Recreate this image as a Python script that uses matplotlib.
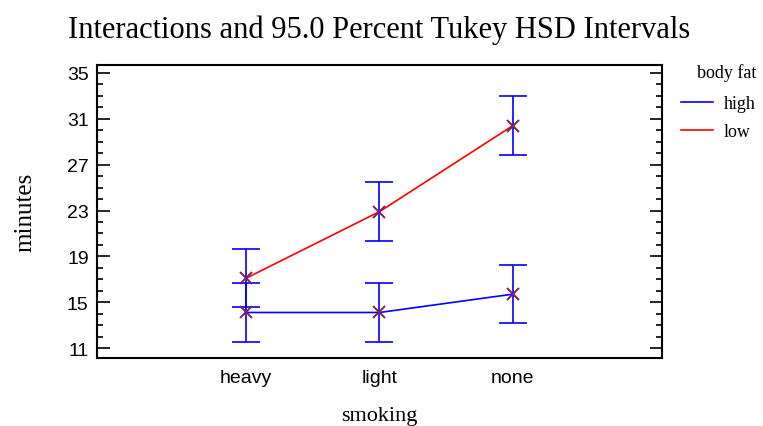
import numpy as np
import matplotlib.pyplot as plt
from matplotlib.ticker import MultipleLocator
from matplotlib.lines import Line2D

# data
smoking = ['heavy', 'light', 'none']
high_means = [14.1, 14.1, 15.7]
low_means = [17.1, 22.9, 30.4]
hsd_half = 2.56   # half width of the Tukey HSD interval

serif = 'Liberation Serif'
sans = 'Liberation Sans'

fig = plt.figure(figsize=(7.63, 4.27), dpi=100)
ax = fig.add_axes([0.1271, 0.1593, 0.7405, 0.6862])

x = np.arange(len(smoking))

# lines
ax.plot(x, high_means, color='blue', lw=1.2, zorder=2)
ax.plot(x, low_means, color='red', lw=1.2, zorder=2)

# intervals
for means in (high_means, low_means):
    ax.errorbar(x, means, yerr=hsd_half, fmt='none', ecolor='blue',
                elinewidth=1.2, capsize=10, capthick=1.2, zorder=1)
    ax.plot(x, means, ls='none', marker='x', ms=9, mew=1.4,
            color='#7a1f60', zorder=3)

ax.set_xlim(-1.12, 3.12)
ax.set_ylim(10.13, 35.7)
ax.set_xticks(x)
ax.set_xticklabels(smoking, fontfamily=sans, fontsize=14)
ax.set_yticks([11, 15, 19, 23, 27, 31, 35])
ax.yaxis.set_minor_locator(MultipleLocator(1))
ax.tick_params(axis='x', length=0, pad=8)
ax.tick_params(axis='y', which='major', direction='in', length=9, width=1.2,
               left=True, right=True, labelsize=14, pad=6)
ax.tick_params(axis='y', which='minor', direction='in', length=4.5, width=1.2,
               left=True, right=True)
for lab in ax.get_yticklabels():
    lab.set_fontfamily(sans)
for s in ax.spines.values():
    s.set_linewidth(1.5)

ax.set_title('Interactions and 95.0 Percent Tukey HSD Intervals',
             fontfamily=serif, fontsize=22, pad=20)
ax.set_xlabel('smoking', fontfamily=serif, fontsize=16, labelpad=14)
ax.set_ylabel('minutes', fontfamily=serif, fontsize=18, labelpad=22)

# legend
handles = [Line2D([], [], color='blue', lw=1.2),
           Line2D([], [], color='red', lw=1.2)]
leg = fig.legend(handles, ['high', 'low'], title='body fat',
                 loc='upper left', bbox_to_anchor=(0.885, 0.862),
                 frameon=False, prop={'family': serif, 'size': 13},
                 handlelength=1.8, handletextpad=0.6, labelspacing=0.62,
                 borderaxespad=0.0, borderpad=0.3)
leg.get_title().set_fontfamily(serif)
leg.get_title().set_fontsize(13)
leg._legend_box.align = 'right'
leg._legend_box.sep = 10

fig.savefig('out.png', dpi=100)
